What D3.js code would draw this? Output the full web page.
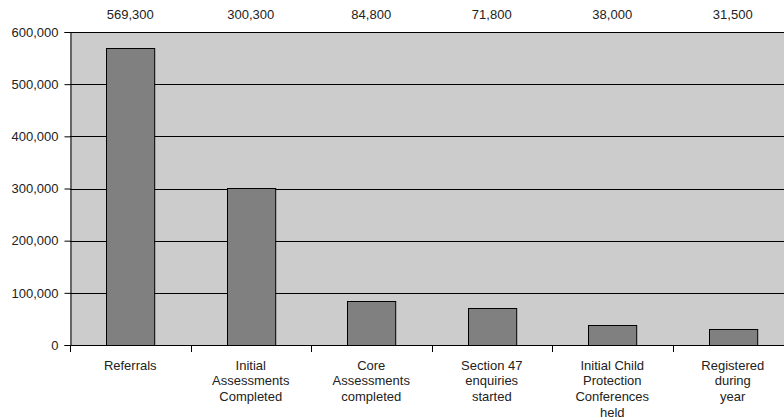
<!DOCTYPE html>
<html>
<head>
<meta charset="utf-8">
<script src="https://cdn.jsdelivr.net/npm/d3@7"></script>
<style>
  html, body { margin: 0; padding: 0; background: #fff; }
  svg { display: block; }
  text { font-family: "Liberation Sans", Arial, sans-serif; font-size: 13px; fill: #222; }
</style>
</head>
<body>
<svg id="chart" width="784" height="419"></svg>
<script>
// Child protection process: counts at each stage
const categories = [
  ["Referrals"],
  ["Initial", "Assessments", "Completed"],
  ["Core", "Assessments", "completed"],
  ["Section 47", "enquiries", "started"],
  ["Initial Child", "Protection", "Conferences", "held"],
  ["Registered", "during", "year"]
];
const values = [569300, 300300, 84800, 71800, 38000, 31500];
const yTicks = [0, 100000, 200000, 300000, 400000, 500000, 600000];

const svg = d3.select("#chart");
const plotLeft = 70, plotRight = 793, plotTop = 32, plotBottom = 345;

const x = d3.scaleBand()
  .domain(d3.range(categories.length))
  .range([plotLeft, plotRight])
  .paddingInner(0.6)
  .paddingOuter(0.3);

const y = d3.scaleLinear().domain([0, 600000]).range([plotBottom, plotTop]);

// plot background
svg.append("rect")
  .attr("x", plotLeft).attr("y", plotTop)
  .attr("width", plotRight - plotLeft).attr("height", plotBottom - plotTop)
  .attr("fill", "#cccccc");

// horizontal gridlines
svg.append("g")
  .selectAll("line")
  .data(yTicks.filter(d => d > 0))
  .join("line")
  .attr("x1", plotLeft).attr("x2", plotRight)
  .attr("y1", d => Math.round(y(d)) + 0.5).attr("y2", d => Math.round(y(d)) + 0.5)
  .attr("stroke", "#000").attr("stroke-width", 1);

// bars
svg.append("g")
  .selectAll("rect")
  .data(values)
  .join("rect")
  .attr("x", (d, i) => Math.round(x(i)) + 0.5)
  .attr("y", d => Math.round(y(d)) + 0.5)
  .attr("width", x.bandwidth())
  .attr("height", d => plotBottom - Math.round(y(d)))
  .attr("fill", "#808080")
  .attr("stroke", "#000").attr("stroke-width", 1);

// y axis
const yAxis = svg.append("g")
  .attr("transform", `translate(${plotLeft + 0.5},0)`)
  .call(d3.axisLeft(y).tickValues(yTicks).tickSize(6).tickPadding(6)
    .tickFormat(d3.format(",")));
yAxis.select(".domain").attr("stroke", "#000");
yAxis.selectAll(".tick line").attr("stroke", "#000");
yAxis.selectAll("text").attr("fill", "#222")
  .style("font-size", "13px")
  .style("font-family", "'Liberation Sans', Arial, sans-serif");

// x axis: category boundary ticks
const bounds = d3.range(categories.length + 1)
  .map(i => plotLeft + i * (plotRight - plotLeft) / categories.length);
svg.append("line")
  .attr("x1", plotLeft).attr("x2", plotRight)
  .attr("y1", plotBottom + 0.5).attr("y2", plotBottom + 0.5)
  .attr("stroke", "#000");
svg.append("g")
  .selectAll("line")
  .data(bounds)
  .join("line")
  .attr("x1", d => Math.round(d) + 0.5).attr("x2", d => Math.round(d) + 0.5)
  .attr("y1", plotBottom).attr("y2", plotBottom + 7)
  .attr("stroke", "#000");

// category labels
const cx = i => x(i) + x.bandwidth() / 2;
svg.append("g")
  .selectAll("text")
  .data(categories)
  .join("text")
  .attr("text-anchor", "middle")
  .each(function (lines, i) {
    d3.select(this).selectAll("tspan")
      .data(lines)
      .join("tspan")
      .attr("x", cx(i))
      .attr("y", (l, j) => 369.5 + j * 15.8)
      .text(l => l);
  });

// value labels above the plot
svg.append("g")
  .selectAll("text")
  .data(values)
  .join("text")
  .attr("x", (d, i) => cx(i))
  .attr("y", 19)
  .attr("text-anchor", "middle")
  .text(d => d3.format(",")(d));
</script>
</body>
</html>
